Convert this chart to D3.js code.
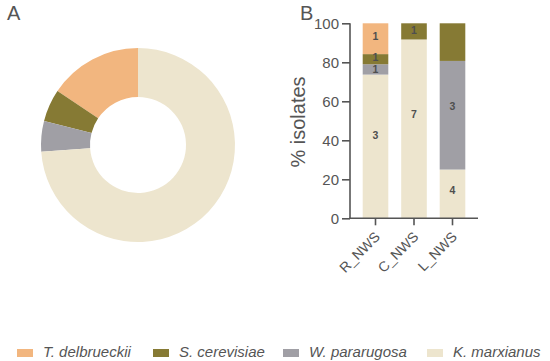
<!DOCTYPE html>
<html><head><meta charset="utf-8">
<script src="https://cdn.jsdelivr.net/npm/d3@7"></script>
<style>body{margin:0;background:#fff}svg{display:block}text{font-family:"Liberation Sans",Arial,sans-serif}</style>
</head><body><svg id="c" width="550" height="361"></svg>
<script>
// Data
const species = ["T. delbrueckii", "S. cerevisiae", "W. pararugosa", "K. marxianus"];
const speciesColors = ["#f2b67f", "#867a34", "#a09fa5", "#ede5ce"];
const pieValues = [15.6, 5.4, 5.1, 73.9]; // % share, same order as species
const groups = ["R_NWS", "C_NWS", "L_NWS"];
// stacked % per group, order bottom to top
const stackKeys = ["K. marxianus", "W. pararugosa", "S. cerevisiae", "T. delbrueckii"];
const kmarxianus = [73.7, 91.7, 25.0];
const wpararugosa = [5.3, 0, 55.7];
const scerevisiae = [5.2, 8.3, 19.3];
const tdelbrueckii = [15.8, 0, 0];
const kLabels = ["3", "7", "4"];
const wLabels = ["1", "", "3"];
const sLabels = ["1", "1", ""];
const tLabels = ["1", "", ""];
const yTicks = [0, 20, 40, 60, 80, 100];

const svg = d3.select("#c");
const txt = "#555";
const color = d3.scaleOrdinal().domain(species).range(speciesColors);

// Panel letters
svg.append("text").attr("x", 7).attr("y", 20).attr("font-size", 20).attr("fill", txt).text("A");
svg.append("text").attr("x", 300).attr("y", 20).attr("font-size", 20).attr("fill", txt).text("B");

// Donut
const pieData = species.map((s, i) => ({ key: s, value: pieValues[i] }));
const pieOrder = ["K. marxianus", "W. pararugosa", "S. cerevisiae", "T. delbrueckii"];
const pie = d3.pie().sort((a, b) => pieOrder.indexOf(a.key) - pieOrder.indexOf(b.key)).value(d => d.value);
const arc = d3.arc().innerRadius(48).outerRadius(97);
svg.append("g").attr("transform", "translate(138,145)")
  .selectAll("path").data(pie(pieData)).join("path")
  .attr("d", arc).attr("fill", d => color(d.data.key));

// Bars
const rows = groups.map((g, i) => ({
  group: g,
  "K. marxianus": kmarxianus[i], "W. pararugosa": wpararugosa[i],
  "S. cerevisiae": scerevisiae[i], "T. delbrueckii": tdelbrueckii[i]
}));
const labelMap = {
  "K. marxianus": kLabels, "W. pararugosa": wLabels,
  "S. cerevisiae": sLabels, "T. delbrueckii": tLabels
};
const x = d3.scaleBand().domain(groups).range([356.25, 471.75]).paddingInner(0.335).paddingOuter(0.1675);
const y = d3.scaleLinear().domain([0, 100]).range([218.3, 23.3]);
const series = d3.stack().keys(stackKeys)(rows);

const gb = svg.append("g");
series.forEach(s => {
  gb.append("g").selectAll("rect").data(s).join("rect")
    .attr("x", d => x(d.data.group)).attr("width", x.bandwidth())
    .attr("y", d => y(d[1])).attr("height", d => y(d[0]) - y(d[1]))
    .attr("fill", color(s.key));
});

// labels: placed ~58% up each segment, then spread apart to avoid collisions
const labels = [];
series.forEach(s => {
  s.forEach((d, i) => {
    const t = labelMap[s.key][i];
    if (!t) return;
    labels.push({ group: d.data.group, text: t, y: y(d[0] + 0.58 * (d[1] - d[0])) });
  });
});
const minGap = 12;
groups.forEach(g => {
  const ls = labels.filter(l => l.group === g).sort((a, b) => b.y - a.y);
  for (let k = 1; k < ls.length; k++) {
    const gap = ls[k - 1].y - ls[k].y;
    if (gap < minGap) {
      const push = (minGap - gap) / 2;
      ls[k - 1].y += push; ls[k].y -= push;
    }
  }
});
gb.append("g").selectAll("text").data(labels).join("text")
  .attr("x", d => x(d.group) + x.bandwidth() / 2)
  .attr("y", d => d.y)
  .attr("dy", "0.36em").attr("text-anchor", "middle")
  .attr("font-size", 10.5).attr("font-weight", "bold").attr("fill", "#4f4f4f")
  .text(d => d.text);

// Y axis
const ya = svg.append("g").attr("transform", "translate(350,0)")
  .call(d3.axisLeft(y).tickValues(yTicks).tickSize(8).tickPadding(3));
ya.select(".domain").attr("stroke", txt).attr("stroke-width", 1.6).attr("d", "M0," + y(100) + "V" + (y(0)));
ya.selectAll(".tick line").attr("stroke", txt).attr("stroke-width", 1.6);
ya.selectAll(".tick text").attr("fill", txt).attr("font-size", 15).attr("font-family", "Liberation Sans, Arial, sans-serif");

// X axis
const xa = svg.append("g").attr("transform", "translate(0,218.3)")
  .call(d3.axisBottom(x).tickSize(7).tickSizeOuter(0));
xa.select(".domain").attr("stroke", txt).attr("stroke-width", 1.6).attr("d", "M349.2,0H478");
xa.selectAll(".tick line").attr("stroke", txt).attr("stroke-width", 1.6);
xa.selectAll(".tick text").attr("fill", txt).attr("font-size", 14)
  .attr("font-family", "Liberation Sans, Arial, sans-serif")
  .attr("text-anchor", "end").attr("dy", "0.35em")
  .attr("transform", "translate(2,16) rotate(-45)").attr("y", 0).attr("x", 0);

// Y title
svg.append("text").attr("transform", "translate(305,122) rotate(-90)")
  .attr("text-anchor", "middle").attr("font-size", 20).attr("fill", txt).text("% isolates");

// Legend
const legX = [17, 153, 283, 427];
const lg = svg.append("g");
species.forEach((s, i) => {
  lg.append("rect").attr("x", legX[i]).attr("y", 349).attr("width", 16).attr("height", 8).attr("fill", color(s));
  lg.append("text").attr("x", legX[i] + 26).attr("y", 357).attr("font-size", 15)
    .attr("font-style", "italic").attr("fill", txt).text(s);
});
</script></body></html>
